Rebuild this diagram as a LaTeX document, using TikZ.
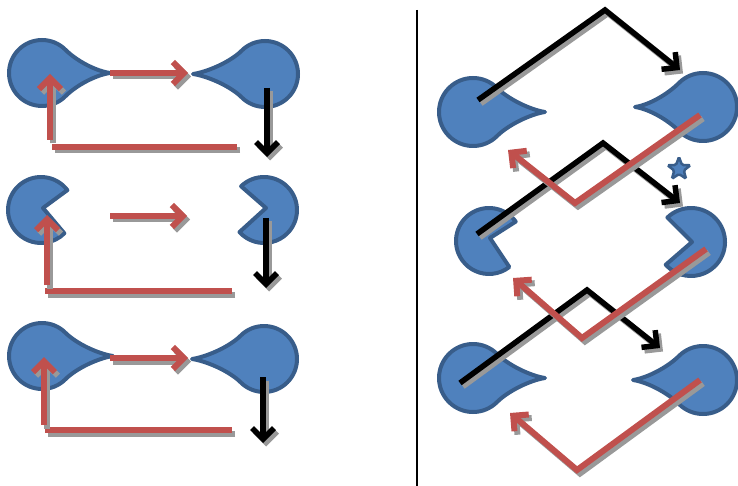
\documentclass[tikz,border=0pt]{standalone}
\usetikzlibrary{arrows.meta,calc,shapes.geometric}
\definecolor{shfill}{HTML}{4F81BD}
\definecolor{shline}{HTML}{385D8A}
\definecolor{redl}{HTML}{C0504D}
\definecolor{shad}{HTML}{999999}
% teardrop, tail pointing right: cx cy r tipx
\newcommand\dropTailR[4]{\draw[shapestyle] (#4,#2) .. controls +(-14,-2) and +(45:16) .. ($(#1,#2)+(-45:#3)$) arc[start angle=-45,end angle=-315,radius=#3] .. controls +(-45:16) and +(-14,2) .. (#4,#2) -- cycle;}
% teardrop, tail pointing left: cx cy r tipx
\newcommand\dropTailL[4]{\draw[shapestyle] (#4,#2) .. controls +(14,-2) and +(135:16) .. ($(#1,#2)+(-135:#3)$) arc[start angle=-135,end angle=135,radius=#3] .. controls +(-135:16) and +(14,2) .. (#4,#2) -- cycle;}
% pacman: cx cy r startangle endangle vertex
\newcommand\pacShape[6]{\draw[shapestyle] (#6) -- ($(#1,#2)+(#4:#3)$) arc[start angle=#4,end angle=#5,radius=#3] -- cycle;}
% connector with a gray drop shadow
\newcommand\sdraw[2]{\begin{scope}[transform canvas={shift={(3pt,-3.5pt)}}]\draw[#1,draw=shad] #2;\end{scope}\draw[#1] #2;}
\begin{document}
\begin{tikzpicture}[x=1pt,y=-1pt,
  shapestyle/.style={fill=shfill,draw=shline,line width=4pt,line join=round},
  redline/.style={draw=redl,line width=6pt},
  redarrow/.style={redline,-{Straight Barb[length=11pt,width=22pt]}},
  blackarrow/.style={draw=black,line width=5.5pt,-{Straight Barb[length=11pt,width=22pt]}},
  divider/.style={draw=black,line width=2pt}]
\useasboundingbox (0,0) rectangle (738,486);

% ---------- left column shapes ----------
\dropTailR{42}{73}{33}{110}
\dropTailL{265}{74}{33}{193}
\pacShape{41}{210}{33}{-37}{-315}{43,208}
\pacShape{264}{210}{33}{-134}{138}{266,208}
\dropTailR{42}{356}{33}{113}
\dropTailL{264}{359}{33}{192}

% ---------- right column shapes ----------
\dropTailR{473}{112}{34}{545}
\dropTailL{703}{107}{34}{635}
\pacShape{489}{241}{33}{-36}{-308}{490,238}
\pacShape{691}{242}{34}{-134}{138}{692,242}
\dropTailR{473}{378}{34}{545}
\dropTailL{703}{380}{34}{633}
\node[star,star points=5,star point ratio=2.4,minimum size=24pt,inner sep=0pt,
      fill=shfill,draw=shline,line width=2.5pt,rounded corners=1.5pt] (star) at (679,169) {};

% ---------- coordinates ----------
\coordinate (a1s) at (110,73);  \coordinate (a1e) at (188,73);
\coordinate (h1s) at (237,147); \coordinate (h1e) at (52,147);
\coordinate (v1s) at (50,140);  \coordinate (v1e) at (50,74);
\coordinate (d1s) at (267,88);  \coordinate (d1e) at (267,157);

\coordinate (a2s) at (110,216); \coordinate (a2e) at (187,216);
\coordinate (h2s) at (232,291); \coordinate (h2e) at (45,291);
\coordinate (v2s) at (47,285);  \coordinate (v2e) at (47,215);
\coordinate (d2s) at (266,218); \coordinate (d2e) at (266,288);

\coordinate (a3s) at (110,358); \coordinate (a3e) at (188,358);
\coordinate (h3s) at (232,430); \coordinate (h3e) at (45,430);
\coordinate (v3s) at (44,425);  \coordinate (v3e) at (44,357);
\coordinate (d3s) at (263,377); \coordinate (d3e) at (263,443);

\coordinate (divt) at (417,10); \coordinate (divb) at (417,486);

\coordinate (k1s) at (478,100); \coordinate (k1p) at (605,10);  \coordinate (k1e) at (680,70);
\coordinate (k2s) at (477,234); \coordinate (k2p) at (603,143); \coordinate (k2e) at (680,203);
\coordinate (k3s) at (460,383); \coordinate (k3p) at (587,290); \coordinate (k3e) at (660,348);
\coordinate (r1s) at (700,115); \coordinate (r1p) at (575,203); \coordinate (r1e) at (508,150);
\coordinate (r2s) at (706,249); \coordinate (r2p) at (582,338); \coordinate (r2e) at (513,278);
\coordinate (r3s) at (700,380); \coordinate (r3p) at (577,470); \coordinate (r3e) at (510,413);

% ---------- left column connectors ----------
\sdraw{redarrow}{(a1s) -- (a1e)}
\sdraw{redline}{(h1s) -- (h1e)}
\sdraw{redarrow}{(v1s) -- (v1e)}
\sdraw{blackarrow}{(d1s) -- (d1e)}

\sdraw{redarrow}{(a2s) -- (a2e)}
\sdraw{redline}{(h2s) -- (h2e)}
\sdraw{redarrow}{(v2s) -- (v2e)}
\sdraw{blackarrow}{(d2s) -- (d2e)}

\sdraw{redarrow}{(a3s) -- (a3e)}
\sdraw{redline}{(h3s) -- (h3e)}
\sdraw{redarrow}{(v3s) -- (v3e)}
\sdraw{blackarrow}{(d3s) -- (d3e)}

\draw[divider] (divt) -- (divb);

% ---------- right column connectors ----------
\sdraw{blackarrow}{(k1s) -- (k1p) -- (k1e)}
\sdraw{blackarrow}{(k2s) -- (k2p) -- (k2e)}
\sdraw{blackarrow}{(k3s) -- (k3p) -- (k3e)}
\sdraw{redarrow}{(r1s) -- (r1p) -- (r1e)}
\sdraw{redarrow}{(r2s) -- (r2p) -- (r2e)}
\sdraw{redarrow}{(r3s) -- (r3p) -- (r3e)}
\end{tikzpicture}
\end{document}
